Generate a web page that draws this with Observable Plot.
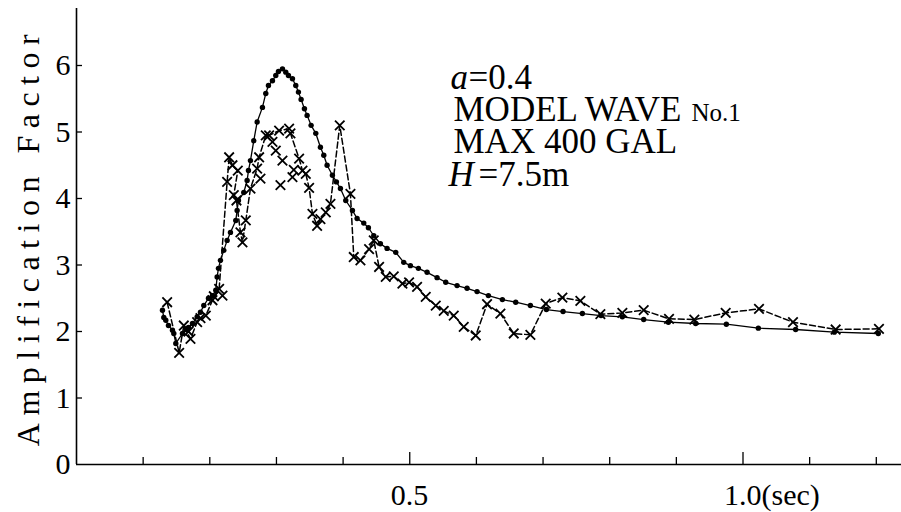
<!DOCTYPE html>
<html><head><meta charset="utf-8">
<script src="https://cdn.jsdelivr.net/npm/d3@7"></script>
<script src="https://cdn.jsdelivr.net/npm/@observablehq/plot@0.6"></script>
<style>
html,body{margin:0;padding:0;background:#fff;}
</style>
</head><body><div id="chart"></div>
<script>
// Computed response (filled dots)
const dotT = [0.129,0.131,0.134,0.138,0.144,0.146,0.149,0.159,0.164,0.168,0.174,0.181,0.186,0.191,0.198,0.204,0.209,0.211,0.213,0.216,0.221,0.226,0.231,0.239,0.241,0.243,0.251,0.256,0.258,0.261,0.266,0.271,0.279,0.284,0.288,0.294,0.299,0.303,0.309,0.314,0.318,0.324,0.329,0.333,0.337,0.342,0.346,0.352,0.359,0.366,0.371,0.376,0.384,0.390,0.396,0.404,0.414,0.421,0.431,0.438,0.446,0.456,0.466,0.479,0.491,0.501,0.513,0.526,0.541,0.554,0.571,0.586,0.601,0.618,0.639,0.659,0.681,0.705,0.730,0.759,0.787,0.819,0.851,0.888,0.929,0.975,1.023,1.079,1.137,1.203];
const dotV = [2.32,2.21,2.17,2.09,2.02,1.97,1.82,1.97,2.03,2.06,2.12,2.22,2.29,2.39,2.50,2.54,2.62,2.82,2.95,3.07,3.22,3.37,3.49,3.67,3.82,3.97,4.09,4.27,4.42,4.57,4.87,5.15,5.37,5.58,5.70,5.77,5.85,5.91,5.95,5.90,5.85,5.80,5.70,5.60,5.49,5.35,5.25,5.10,4.98,4.77,4.65,4.50,4.35,4.25,4.15,3.97,3.82,3.70,3.63,3.56,3.44,3.32,3.25,3.19,3.04,2.99,2.95,2.89,2.81,2.74,2.69,2.65,2.60,2.54,2.48,2.44,2.39,2.33,2.30,2.27,2.24,2.22,2.18,2.14,2.12,2.11,2.05,2.03,1.99,1.97];

// Observed response (crosses, dashed line, in drawing order)
const crossT = [0.136,0.154,0.161,0.171,0.181,0.194,0.204,0.214,0.226,0.229,0.234,0.242,0.236,0.240,0.246,0.249,0.254,0.261,0.271,0.274,0.284,0.289,0.304,0.319,0.321,0.334,0.339,0.344,0.349,0.354,0.361,0.366,0.374,0.381,0.395,0.411,0.416,0.426,0.439,0.446,0.454,0.464,0.476,0.489,0.499,0.511,0.524,0.539,0.551,0.566,0.581,0.599,0.616,0.636,0.656,0.681,0.704,0.729,0.756,0.786,0.819,0.851,0.889,0.927,0.974,1.024,1.075,1.139,1.204];
const crossV = [2.44,1.68,2.09,1.89,2.14,2.24,2.47,2.64,4.25,4.62,4.50,4.42,4.05,3.97,3.49,3.34,3.67,4.15,4.45,4.62,4.95,4.95,5.02,5.05,4.98,4.60,4.42,4.37,4.16,3.77,3.59,3.69,3.79,3.92,5.10,4.07,3.12,3.07,3.24,3.37,2.97,2.82,2.83,2.72,2.74,2.67,2.52,2.39,2.31,2.24,2.07,1.94,2.41,2.27,1.97,1.95,2.42,2.51,2.46,2.26,2.28,2.32,2.19,2.18,2.28,2.34,2.14,2.03,2.04];

// Extra observed crosses without connecting line
const extraT = [0.168,0.186,0.206,0.219,0.276,0.294,0.299,0.306,0.309,0.324,0.326];
const extraV = [2.00,2.20,2.53,2.54,4.30,4.85,4.72,4.20,4.57,4.32,4.43];

// Axes
const yTicks = [0,1,2,3,4,5,6];
const xTicks = [0.1,0.2,0.3,0.4,0.5,0.6,0.7,0.8,0.9,1.0,1.1,1.2];
const xMajor = [0.5,1.0];
const xLabelPos = [0.5,1.0];
const xLabelText = ["0.5","1.0(sec)"];
const yTitle = "Amplification Factor";

// Annotation lines
const noteLines = ["a","=0.4","MODEL WAVE","No.1","MAX 400 GAL","H","=7.5m"];

const dots = dotT.map((t,i)=>({t, v: dotV[i]}));
const crosses = crossT.map((t,i)=>({t, v: crossV[i]}));
const extras = extraT.map((t,i)=>({t, v: extraV[i]}));

const W = 901, H = 512, mL = 76, mR = 0, mT = 8, mB = 48;
const pxPerSec = 666.5, pxPerUnit = 66.5;
const xMax = (W - mL - mR) / pxPerSec;
const yMax = (H - mT - mB) / pxPerUnit;
const FONT = '"Liberation Serif", "Times New Roman", serif';

const note = (i, dx, dy, size, italic) => Plot.text([noteLines[i]], {
  frameAnchor: "top-left", text: d => d, dx, dy, textAnchor: "start", lineAnchor: "middle",
  fontSize: size, fontStyle: italic ? "italic" : "normal", fontFamily: FONT, fill: "#000"
});

const chart = Plot.plot({
  width: W, height: H,
  marginLeft: mL, marginRight: mR, marginTop: mT, marginBottom: mB,
  style: {background: "#fff", fontFamily: FONT, color: "#000"},
  x: {domain: [0, xMax], axis: null},
  y: {domain: [0, yMax], axis: null},
  marks: [
    Plot.ruleX([0], {y1: 0, y2: yMax, stroke: "#000", strokeWidth: 1.6}),
    Plot.ruleY([0], {x1: 0, x2: xMax, stroke: "#000", strokeWidth: 1.6}),
    Plot.ruleY(yTicks.slice(1), {y: d => d, x1: 0, x2: 6 / pxPerSec, stroke: "#000", strokeWidth: 1.3}),
    Plot.ruleX(xTicks, {x: d => d, y1: 0, y2: d => xMajor.includes(d) ? 12 / pxPerUnit : 7 / pxPerUnit, stroke: "#000", strokeWidth: 1.3}),
    Plot.text(yTicks, {x: 0, y: d => d, text: d => String(d), textAnchor: "end", lineAnchor: "middle", dx: -6, fontSize: 30, fontFamily: FONT, fill: "#000"}),
    Plot.text(xLabelPos, {x: d => d, y: 0, text: (d, i) => xLabelText[i], textAnchor: "start", lineAnchor: "middle", dx: -19, dy: 31, fontSize: 30, fontFamily: FONT, fill: "#000"}),
    Plot.text([yTitle], {frameAnchor: "left", text: d => d, rotate: -90, textAnchor: "middle", lineAnchor: "middle", dx: -48, dy: 0, fontSize: 32, fontFamily: FONT, fill: "#000"}),
    // observed: dashed line + crosses
    Plot.line(crosses, {x: "t", y: "v", stroke: "#000", strokeWidth: 1.5, strokeDasharray: "6,3", curve: "linear"}),
    Plot.dot(crosses, {x: "t", y: "v", symbol: "times", r: 4.4, stroke: "#000", strokeWidth: 1.8}),
    Plot.dot(extras, {x: "t", y: "v", symbol: "times", r: 4.4, stroke: "#000", strokeWidth: 1.8}),
    // computed: line + filled dots
    Plot.line(dots, {x: "t", y: "v", stroke: "#000", strokeWidth: 1.3}),
    Plot.dot(dots, {x: "t", y: "v", r: 2.7, fill: "#000", stroke: "none"}),
    // annotation
    note(0, 374, 69, 35, true),
    note(1, 392, 69, 35, false),
    note(2, 377, 101, 35, false),
    note(3, 615, 104, 25, false),
    note(4, 377, 133, 35, false),
    note(5, 372, 166, 35, true),
    note(6, 402, 166, 35, false)
  ]
});

d3.select(chart).selectAll("text")
  .filter(function(){ return this.textContent === yTitle; })
  .style("letter-spacing", "7.5px");

document.getElementById("chart").appendChild(chart);
</script>
</body></html>
